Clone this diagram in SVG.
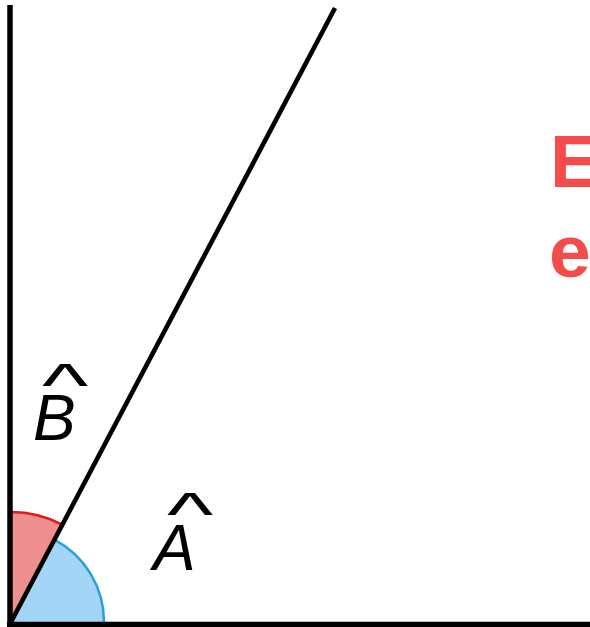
<svg xmlns="http://www.w3.org/2000/svg" width="590" height="627" viewBox="0 0 590 627">
<style>
.axis{stroke:#000;stroke-width:5.5;fill:none}
.ray{stroke:#000;stroke-width:4.6;fill:none}
.lbl{font-family:"Liberation Sans",Arial,sans-serif;font-style:italic;font-size:64px;fill:#000}
.hat{font-family:"Liberation Sans",Arial,sans-serif;font-size:58px;fill:#000;text-anchor:middle}
.title{font-family:"Liberation Sans",Arial,sans-serif;font-weight:bold;font-size:75px;fill:#f44b4b}
</style>
<rect width="590" height="627" fill="#fff"/>
<g id="angleB">
<path d="M11,622 L11,512 A110,110 0 0 1 62.3,524.7 Z" fill="#ef8f8f"/>
<path d="M11,512 A110,110 0 0 1 62.3,524.7" fill="none" stroke="#e01b1b" stroke-width="2.5"/>
</g>
<g id="angleA">
<path d="M11,622 L54.4,539.7 A93,93 0 0 1 104,622 Z" fill="#a3d5f7"/>
<path d="M54.4,539.7 A93,93 0 0 1 104,622" fill="none" stroke="#2a9fe0" stroke-width="2.5"/>
</g>
<g id="lines">
<line class="axis" x1="10" y1="5" x2="10" y2="627"/>
<line class="axis" x1="7" y1="624.5" x2="590" y2="624.5"/>
<line class="ray" x1="11" y1="622" x2="335" y2="8"/>
</g>
<g id="labelB">
<text class="hat" transform="translate(65,406) scale(1.7,1.05)">^</text>
<text class="lbl" x="33" y="440">B</text>
</g>
<g id="labelA">
<text class="hat" transform="translate(190,535) scale(1.7,1.05)">^</text>
<text class="lbl" x="153" y="570">A</text>
</g>
<g id="title">
<text class="title" x="550" y="187">E</text>
<text class="title" x="549" y="277">e</text>
</g>
</svg>
